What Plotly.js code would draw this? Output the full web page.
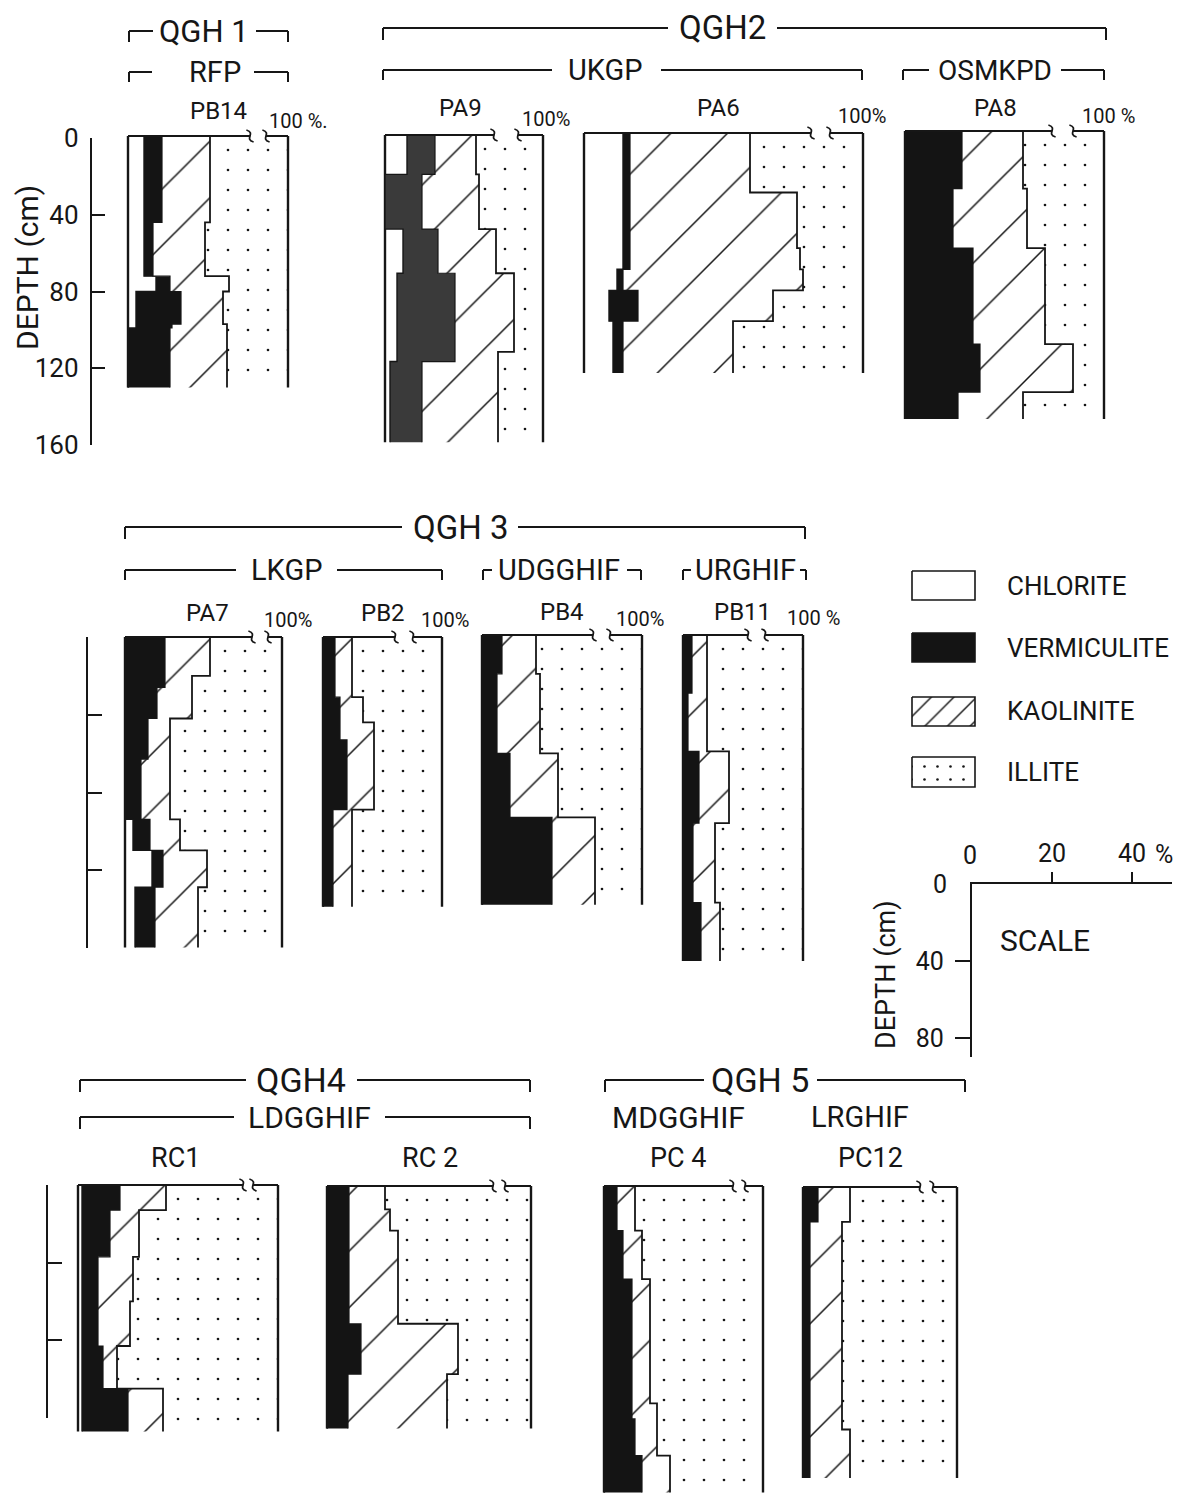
<!DOCTYPE html>
<html><head><meta charset="utf-8">
<script src="https://cdn.plot.ly/plotly-3.0.1.min.js"></script>
<style>html,body{margin:0;padding:0;background:#fff}#chart{width:1195px;height:1504px}</style>
</head><body><div id="chart"></div>
<script>
// ===== DATA: layer boundaries (depth, cm) and clay-mineral percentages per layer =====
// Illite is the remainder to 100 %.
const PB14_depth = [0, 45, 73, 81, 98, 100, 131];
const PB14_chlorite = [4, 4, 7, 2, 2, 0];
const PB14_vermiculite = [4.5, 2.25, 3.5, 11.25, 9, 10.5];
const PB14_kaolinite = [12, 13, 14.75, 10.5, 13.75, 14.25];

const PA9_depth = [0, 20.5, 49, 72, 113, 118, 160];
const PA9_chlorite = [5.5, 0, 4.5, 3, 3, 1.25];
const PA9_vermiculite = [7, 9.25, 8.75, 14.5, 14.5, 8];
const PA9_kaolinite = [10.25, 14.25, 14.5, 14.75, 10.75, 19];

const PA6_depth = [0, 31, 60, 71, 82, 98, 125];
const PA6_chlorite = [9.75, 9.75, 9.75, 8.25, 6.25, 7.25];
const PA6_vermiculite = [1.75, 1.75, 1.75, 1.5, 7.25, 2.5];
const PA6_kaolinite = [30, 41.75, 42.5, 45, 33.75, 27.5];

const PA8_depth = [0, 30, 61, 111, 136, 150];
const PA8_chlorite = [0, 0, 0, 0, 0];
const PA8_vermiculite = [14.25, 12, 17, 18.75, 13.25];
const PA8_kaolinite = [15.25, 18.5, 18, 23.25, 16.25];

const PA7_depth = [0, 20, 26, 42, 63, 94, 110, 129, 160];
const PA7_chlorite = [0, 0, 0, 0, 0, 2, 6.75, 2.5];
const PA7_vermiculite = [10, 10, 8, 5.75, 4, 4.25, 2.75, 5];
const PA7_kaolinite = [11.25, 6.75, 8.75, 5.5, 7.25, 7.5, 11, 10.75];

const PB2_depth = [0, 31, 44, 53, 89, 139];
const PB2_chlorite = [0, 0, 0, 0, 0];
const PB2_vermiculite = [3, 4.25, 4.25, 6, 2.5];
const PB2_kaolinite = [4.25, 5.75, 8.5, 6.75, 4.75];

const PB4_depth = [0, 20, 61, 94, 139];
const PB4_chlorite = [0, 0, 0, 0];
const PB4_vermiculite = [5, 3.75, 7, 17.5];
const PB4_kaolinite = [8.5, 10.75, 12, 10.75];

const PB11_depth = [0, 30, 60, 97, 138, 168];
const PB11_chlorite = [0, 0, 0, 0, 0];
const PB11_vermiculite = [2.25, 1.25, 4, 2.5, 4.5];
const PB11_kaolinite = [3.75, 4.75, 7.5, 5.5, 4.75];

const RC1_depth = [0, 13, 37, 60, 83, 105, 127];
const RC1_chlorite = [1, 1, 1, 1, 1, 1];
const RC1_vermiculite = [9.5, 7, 4, 4, 5.25, 11.5];
const RC1_kaolinite = [11.5, 7.25, 8.75, 8, 3.5, 8.75];

const RC2_depth = [0, 12, 23, 71, 97, 125];
const RC2_chlorite = [0, 0, 0, 0, 0];
const RC2_vermiculite = [5.5, 5.5, 5.5, 8.5, 5.25];
const RC2_kaolinite = [9, 10.25, 12.25, 24.25, 24.75];

const PC4_depth = [0, 23, 48, 112, 120, 139, 158];
const PC4_chlorite = [0, 0, 0, 0, 0, 0];
const PC4_vermiculite = [3.25, 4.75, 7, 7, 7.75, 9.5];
const PC4_kaolinite = [4.5, 4.75, 4.5, 6.25, 5.5, 7];

const PC12_depth = [0, 18, 125, 150];
const PC12_chlorite = [0, 0, 0];
const PC12_vermiculite = [3.75, 1.75, 1.75];
const PC12_kaolinite = [8, 8, 10];

const DEPTH_TICKS = [0, 40, 80, 120, 160];
const SCALE_PCT_TICKS = [20, 40];
const SCALE_DEPTH_TICKS = [40, 80];
const LEGEND_LABELS = ['CHLORITE', 'VERMICULITE', 'KAOLINITE', 'ILLITE'];

const PROFILES = {
  PB14: {depth: PB14_depth, chl: PB14_chlorite, verm: PB14_vermiculite, kao: PB14_kaolinite},
  PA9: {depth: PA9_depth, chl: PA9_chlorite, verm: PA9_vermiculite, kao: PA9_kaolinite},
  PA6: {depth: PA6_depth, chl: PA6_chlorite, verm: PA6_vermiculite, kao: PA6_kaolinite},
  PA8: {depth: PA8_depth, chl: PA8_chlorite, verm: PA8_vermiculite, kao: PA8_kaolinite},
  PA7: {depth: PA7_depth, chl: PA7_chlorite, verm: PA7_vermiculite, kao: PA7_kaolinite},
  PB2: {depth: PB2_depth, chl: PB2_chlorite, verm: PB2_vermiculite, kao: PB2_kaolinite},
  PB4: {depth: PB4_depth, chl: PB4_chlorite, verm: PB4_vermiculite, kao: PB4_kaolinite},
  PB11: {depth: PB11_depth, chl: PB11_chlorite, verm: PB11_vermiculite, kao: PB11_kaolinite},
  RC1: {depth: RC1_depth, chl: RC1_chlorite, verm: RC1_vermiculite, kao: RC1_kaolinite},
  RC2: {depth: RC2_depth, chl: RC2_chlorite, verm: RC2_vermiculite, kao: RC2_kaolinite},
  PC4: {depth: PC4_depth, chl: PC4_chlorite, verm: PC4_vermiculite, kao: PC4_kaolinite},
  PC12: {depth: PC12_depth, chl: PC12_chlorite, verm: PC12_vermiculite, kao: PC12_kaolinite}
};

// ===== LAYOUT CONFIG (pixel positions, styles) =====
const W_PX = 1195, H_PX = 1504, PX_PER_PCT = 4;
const FONT = 'Roboto, "DejaVu Sans", sans-serif';
const INK = '#161616';
const VERM = '#141414';

const PANELS = [
  {name:'PB14', left:128, right:288, top:136, s:1.92, brk:[30.5,34.5], lab:[218,111,24], pct:['100 %.',299,121]},
  {name:'PA9', left:385, right:543, top:135, s:1.92, brk:[27.25,33.25], lab:[460,108,24], pct:['100%',546,119], verm:'#3a3a3a'},
  {name:'PA6', left:584, right:863, top:133, s:1.92, brk:[56.75,61.5], lab:[718,108,24], pct:['100%',862,116]},
  {name:'PA8', left:905, right:1104, top:131, s:1.92, brk:[36.75,42], lab:[995,108,24], pct:['100 %',1108,116]},
  {name:'PA7', left:125, right:282, top:637, s:1.94, brk:[31.75,35.75], lab:[208,613,24], pct:['100%',288,620]},
  {name:'PB2', left:323, right:442, top:637, s:1.94, brk:[18,22.5], lab:[383,613,24], pct:['100%',445,620]},
  {name:'PB4', left:482, right:642, top:635, s:1.94, brk:[27.75,32], lab:[562,612,24], pct:['100%',640,619]},
  {name:'PB11', left:683, right:803, top:635, s:1.94, brk:[16.25,20.5], lab:[742,612,24], pct:['100 %',813,618]},
  {name:'RC1', left:78, right:278, top:1185, s:1.94, brk:[41.25,43.75], lab:[175,1158,27], labText:'RC1'},
  {name:'RC2', left:327, right:531, top:1186, s:1.94, brk:[41.5,44.5], lab:[430,1158,27], labText:'RC 2'},
  {name:'PC4', left:604, right:763, top:1186, s:1.94, brk:[32.25,35.25], lab:[678,1158,27], labText:'PC 4'},
  {name:'PC12', left:803, right:957, top:1187, s:1.94, brk:[29.25,32.5], lab:[870,1158,27], labText:'PC12'}
];

const HEADERS = [
  ['QGH 1', 204, 31, 31], ['RFP', 215, 72, 29], ['QGH2', 722, 28, 33], ['UKGP', 606, 70, 29],
  ['OSMKPD', 995, 70, 28], ['QGH 3', 460, 527, 33], ['LKGP', 286, 570, 29], ['UDGGHIF', 559, 570, 29],
  ['URGHIF', 745, 570, 29], ['QGH4', 301, 1080, 34], ['LDGGHIF', 309, 1117, 30], ['QGH 5', 760, 1080, 34],
  ['MDGGHIF', 678, 1117, 30], ['LRGHIF', 860, 1117, 29]
];
const BRACKETS = [
  {x0:129, x1:288, y:31, gap:[153,256], drop:11},
  {x0:129, x1:288, y:72, gap:[152,254], drop:10},
  {x0:383, x1:1106, y:28, gap:[668,777], drop:12},
  {x0:383, x1:862, y:70, gap:[552,661], drop:10},
  {x0:903, x1:1104, y:70, gap:[929,1061], drop:10},
  {x0:125, x1:805, y:527, gap:[402,518], drop:12},
  {x0:125, x1:442, y:570, gap:[236,337], drop:10},
  {x0:483, x1:641, y:570, gap:[492,627], drop:10},
  {x0:683, x1:806, y:570, gap:[691,800], drop:10},
  {x0:80, x1:530, y:1080, gap:[246,357], drop:12},
  {x0:80, x1:530, y:1117, gap:[234,385], drop:12},
  {x0:605, x1:965, y:1080, gap:[704,817], drop:12}
];
const LEGEND_BOXES = [
  {x0:912, x1:975, y0:571, y1:600, kind:'white'},
  {x0:912, x1:975, y0:633, y1:662, kind:'black'},
  {x0:912, x1:975, y0:697, y1:726, kind:'hatch'},
  {x0:912, x1:975, y0:757, y1:787, kind:'dots'}
];

// ===== BUILD =====
const traces = [], shapes = [], annotations = [];
const layout = {
  width: W_PX, height: H_PX, margin: {l:0, r:0, t:0, b:0},
  paper_bgcolor: '#fff', plot_bgcolor: 'rgba(0,0,0,0)', showlegend: false,
  font: {family: FONT, color: INK}, shapes, annotations
};
const px = p => p / W_PX, py = p => 1 - p / H_PX;

function txt(text, x, y, size, extra) {
  annotations.push(Object.assign({text, x: px(x), y: py(y), xref:'paper', yref:'paper', showarrow:false,
    xanchor:'center', yanchor:'middle', font:{family:FONT, size, color:INK}}, extra || {}));
}
function pline(x0, y0, x1, y1, w) {
  shapes.push({type:'line', xref:'paper', yref:'paper', x0:px(x0), y0:py(y0), x1:px(x1), y1:py(y1),
    line:{color:INK, width:w || 2}});
}
function steps(depth, vals) {
  const x = [], y = [];
  for (let i = 0; i < vals.length; i++) { x.push(vals[i], vals[i]); y.push(depth[i], depth[i + 1]); }
  return {x, y};
}
const base = {type:'scatter', mode:'lines', hoverinfo:'skip'};
const HATCH = {shape:'/', fgcolor:INK, bgcolor:'#fff', size:40, solidity:0.038};
const DOTS = {shape:'.', fgcolor:INK, bgcolor:'#fff', size:20, solidity:0.014};

PANELS.forEach((p, i) => {
  const n = i + 1, xa = 'x' + n, ya = 'y' + n;
  const d = PROFILES[p.name];
  const bottom = d.depth[d.depth.length - 1];
  const W = (p.right - p.left) / PX_PER_PCT;
  const padX = 10 / PX_PER_PCT, padT = 16 / p.s, padB = 4 / p.s;
  layout['xaxis' + n] = {domain:[px(p.left - 10), px(p.right + 10)], range:[-padX, W + padX], visible:false, anchor:ya, fixedrange:true};
  layout['yaxis' + n] = {domain:[py(p.top + bottom * p.s + 4), py(p.top - 16)], range:[bottom + padB, -padT], visible:false, anchor:xa, fixedrange:true};

  const c1 = d.chl.slice();
  const c2 = c1.map((v, k) => v + d.verm[k]);
  const c3 = c2.map((v, k) => v + d.kao[k]);
  const s1 = steps(d.depth, c1), s2 = steps(d.depth, c2), s3 = steps(d.depth, c3);
  traces.push(Object.assign({}, base, {x:[0, 0], y:[0, bottom], xaxis:xa, yaxis:ya, line:{color:INK, width:2.4}}));
  traces.push(Object.assign({}, base, {x:s1.x, y:s1.y, xaxis:xa, yaxis:ya, fill:'tonextx', fillcolor:'#fff', line:{color:INK, width:1.4}}));
  traces.push(Object.assign({}, base, {x:s2.x, y:s2.y, xaxis:xa, yaxis:ya, fill:'tonextx', fillcolor:p.verm || VERM, line:{color:INK, width:1.2}}));
  traces.push(Object.assign({}, base, {x:s3.x, y:s3.y, xaxis:xa, yaxis:ya, fill:'tonextx', fillcolor:'#fff', fillpattern:HATCH, line:{color:INK, width:1.8}}));
  traces.push(Object.assign({}, base, {x:[W, W], y:[0, bottom], xaxis:xa, yaxis:ya, fill:'tonextx', fillcolor:'#fff', fillpattern:DOTS, line:{color:INK, width:2.4}}));

  // top line with axis break
  const ly = {color:INK, width:2};
  shapes.push({type:'line', xref:xa, yref:ya, x0:0, x1:p.brk[0], y0:0, y1:0, line:ly});
  shapes.push({type:'line', xref:xa, yref:ya, x0:p.brk[1], x1:W, y0:0, y1:0, line:ly});
  p.brk.forEach(b => {
    const dy = 1 / p.s;
    shapes.push({type:'path', xref:xa, yref:ya, line:{color:INK, width:1.8},
      path:`M ${b - 0.9},${-6 * dy} C ${b + 1.6},${-3 * dy} ${b - 1.6},${3 * dy} ${b + 0.9},${6 * dy}`});
  });
  txt(p.labText || p.name, p.lab[0], p.lab[1], p.lab[2]);
  if (p.pct) txt(p.pct[0], p.pct[1], p.pct[2], 20);
});

// depth axes
function depthAxis(n, xLine, y0, y1, maxDepth, labels, ticklen) {
  layout['xaxis' + n] = {domain:[px(xLine), px(xLine + 10)], range:[0, 1], visible:false, anchor:'y' + n, fixedrange:true};
  layout['yaxis' + n] = {domain:[py(y1), py(y0)], range:[maxDepth, 0], anchor:'x' + n, showline:true, linewidth:2.2,
    linecolor:INK, ticks:'inside', ticklen, tickwidth:2, tickcolor:INK, tickvals:DEPTH_TICKS.filter(t => t <= maxDepth),
    showgrid:false, zeroline:false, showticklabels:labels, ticklabelstandoff:6,
    tickfont:{family:FONT, size:26, color:INK}, fixedrange:true};
  traces.push(Object.assign({}, base, {x:[null], y:[null], xaxis:'x' + n, yaxis:'y' + n}));
}
depthAxis(13, 92, 138, 445, 160, true, 13);
depthAxis(14, 88, 637, 948, 160, false, 14);
depthAxis(15, 48, 1185, 1418, 120, false, 14);
txt('DEPTH (cm)', 27, 268, 30, {textangle:-90});

// scale
layout.xaxis16 = {domain:[px(972), px(1172)], range:[0, 50], anchor:'y16', side:'top', showline:true, linewidth:2.2, linecolor:INK,
  ticks:'outside', ticklen:10, tickwidth:2, tickcolor:INK, tickvals:SCALE_PCT_TICKS, ticktext:SCALE_PCT_TICKS.map(String),
  showgrid:false, zeroline:false, tickfont:{family:FONT, size:25, color:INK}, fixedrange:true};
layout.yaxis16 = {domain:[py(1057), py(884)], range:[90, 0], anchor:'x16', showline:true, linewidth:2.2, linecolor:INK,
  ticks:'outside', ticklen:15, tickwidth:2, tickcolor:INK, tickvals:SCALE_DEPTH_TICKS, showgrid:false, zeroline:false,
  ticklabelstandoff:6, tickfont:{family:FONT, size:25, color:INK}, fixedrange:true};
traces.push(Object.assign({}, base, {x:[null], y:[null], xaxis:'x16', yaxis:'y16'}));
txt('0', 970, 855, 25);
txt('%', 1164, 854, 25);
txt('0', 940, 884, 25);
txt('SCALE', 1045, 940, 30);
txt('DEPTH (cm)', 886, 975, 27, {textangle:-90});

// legend
layout.xaxis17 = {domain:[px(905), px(985)], range:[905, 985], visible:false, anchor:'y17', fixedrange:true};
layout.yaxis17 = {domain:[py(795), py(565)], range:[795, 565], visible:false, anchor:'x17', fixedrange:true};
LEGEND_BOXES.forEach((b, k) => {
  const t = Object.assign({}, base, {x:[b.x0, b.x1, b.x1, b.x0, b.x0], y:[b.y0, b.y0, b.y1, b.y1, b.y0],
    xaxis:'x17', yaxis:'y17', fill:'toself', fillcolor: b.kind === 'black' ? VERM : '#fff', line:{color:INK, width:1.6}});
  if (b.kind === 'hatch') t.fillpattern = {shape:'/', fgcolor:INK, bgcolor:'#fff', size:16, solidity:0.09};
  if (b.kind === 'dots') t.fillpattern = {shape:'.', fgcolor:INK, bgcolor:'#fff', size:13, solidity:0.032};
  traces.push(t);
  txt(LEGEND_LABELS[k], 1005, (b.y0 + b.y1) / 2, 26, {xanchor:'left'});
});

// headers and brackets
HEADERS.forEach(h => txt(h[0], h[1], h[2], h[3]));
BRACKETS.forEach(b => {
  pline(b.x0, b.y, b.x0, b.y + b.drop, 2);
  pline(b.x0, b.y, b.gap[0], b.y, 2);
  pline(b.gap[1], b.y, b.x1, b.y, 2);
  pline(b.x1, b.y, b.x1, b.y + b.drop, 2);
});

Plotly.newPlot('chart', traces, layout, {staticPlot:true, displayModeBar:false});
</script></body></html>
